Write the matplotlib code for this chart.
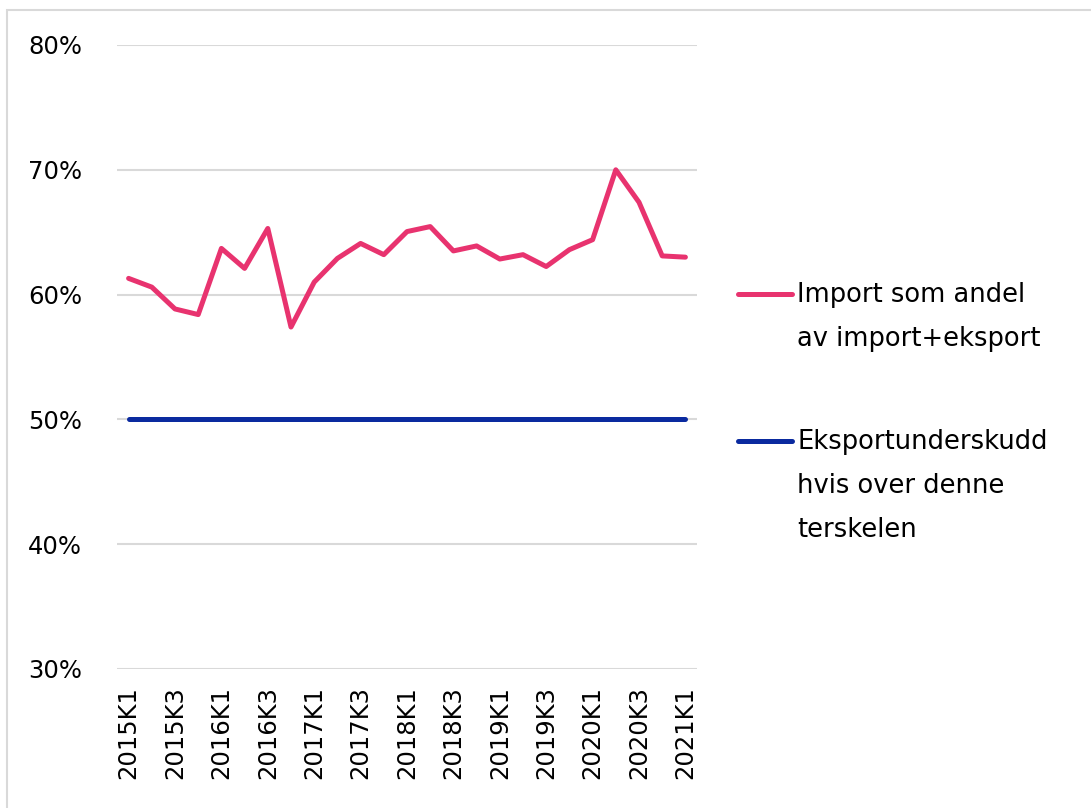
import numpy as np
import matplotlib.pyplot as plt
from matplotlib.lines import Line2D
from matplotlib.patches import Rectangle

# Data
kvartal = [f"{aar}K{k}" for aar in range(2015, 2022) for k in range(1, 5)][:25]
import_andel = [61.3, 60.6, 58.85, 58.4, 63.7, 62.1, 65.3, 57.4, 61.0, 62.9,
                64.1, 63.2, 65.05, 65.45, 63.5, 63.9, 62.85, 63.2, 62.25, 63.6,
                64.4, 70.0, 67.4, 63.1, 63.0]
terskel = [50.0] * 25
legend_labels = ["Import som andel\nav import+eksport",
                 "Eksportunderskudd\nhvis over denne\nterskelen"]

pink = "#E8336F"
blue = "#0A2A9F"

plt.rcParams['font.family'] = ['DejaVu Sans']

fig = plt.figure(figsize=(10.91, 8.08), dpi=100)
ax = fig.add_axes([117/1091, 1-669/808, (697-117)/1091, (669-45)/808])

xx = np.arange(len(kvartal))
ax.plot(xx, import_andel, color=pink, linewidth=3.6, solid_capstyle='round', solid_joinstyle='round', zorder=3)
ax.plot(xx, terskel, color=blue, linewidth=3.6, solid_capstyle='round', zorder=3)

ax.set_xlim(-0.5, len(kvartal) - 0.5)
ax.set_ylim(30, 80)
ax.set_yticks([30, 40, 50, 60, 70, 80])
ax.set_yticklabels([f"{v}%" for v in [30, 40, 50, 60, 70, 80]], fontsize=17.5)
ax.set_xticks(xx[::2])
ax.set_xticklabels(kvartal[::2], rotation=90, fontsize=17.5, va='top')
ax.tick_params(axis='x', length=0, pad=12)
ax.tick_params(axis='y', length=0, pad=25)
ax.grid(axis='y', color='#D9D9D9', linewidth=1.5)
ax.set_axisbelow(True)
for s in ax.spines.values():
    s.set_visible(False)

# Legend drawn by hand so the line sits next to the first text line
W, H = 1091, 808
for (y, col, lab) in [(294, pink, legend_labels[0]), (441, blue, legend_labels[1])]:
    fig.add_artist(Line2D([738/W, 792/W], [1-y/H, 1-y/H], color=col, linewidth=3.6,
                          solid_capstyle='round', transform=fig.transFigure))
    fig.text(797/W, 1-(y-12)/H, lab, fontsize=18.5, va='top', ha='left', linespacing=1.9)

# Light frame around the chart
fig.add_artist(Rectangle((7/W, -0.01), 1.1, 1-10/H+0.01, transform=fig.transFigure,
                         fill=False, edgecolor='#D9D9D9', linewidth=1.5))

fig.savefig("out.png", dpi=100)
